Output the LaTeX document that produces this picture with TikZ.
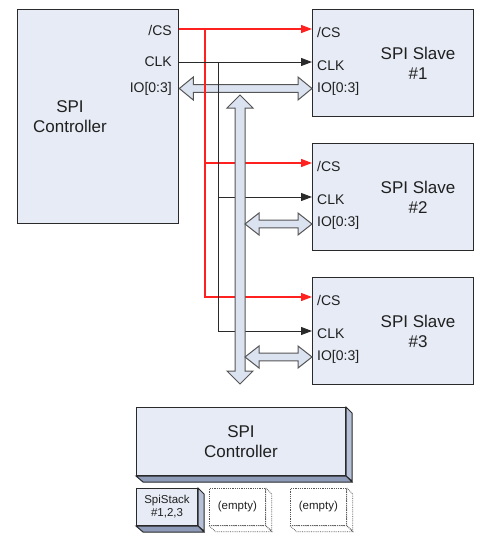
\documentclass[tikz,border=0pt]{standalone}
\usepackage{fontspec}
\setmainfont{Liberation Sans}
\usetikzlibrary{arrows.meta,calc}
\definecolor{boxfill}{HTML}{E6EBF5}
\definecolor{arrfill}{HTML}{DCE3F0}
\definecolor{sidefill}{HTML}{B6C0D6}
\definecolor{botfill}{HTML}{8E9CBA}
\definecolor{sigred}{HTML}{FF2020}
\definecolor{edge}{HTML}{2A2A2A}
\definecolor{txt}{HTML}{202020}
\newcommand\dblH[5]{%
 \filldraw[iobus] let \p1=(#1), \p2=(#2) in
 (\x1,\y1) -- (\x1+#5pt,\y1+#4pt) -- (\x1+#5pt,\y1+#3pt) -- (\x2-#5pt,\y1+#3pt) -- (\x2-#5pt,\y1+#4pt) -- (\x2,\y1)
 -- (\x2-#5pt,\y1-#4pt) -- (\x2-#5pt,\y1-#3pt) -- (\x1+#5pt,\y1-#3pt) -- (\x1+#5pt,\y1-#4pt) -- cycle;}
\newcommand\dblV[5]{%
 \filldraw[iobus] let \p1=(#1), \p2=(#2) in
 (\x1,\y1) -- (\x1+#4pt,\y1-#5pt) -- (\x1+#3pt,\y1-#5pt) -- (\x1+#3pt,\y2+#5pt) -- (\x1+#4pt,\y2+#5pt) -- (\x1,\y2)
 -- (\x1-#4pt,\y2+#5pt) -- (\x1-#3pt,\y2+#5pt) -- (\x1-#3pt,\y1-#5pt) -- (\x1-#4pt,\y1-#5pt) -- cycle;}
\begin{document}
\begin{tikzpicture}[x=1pt,y=-1pt,
 box/.style={draw=edge, line width=1.3pt, fill=boxfill, inner sep=0pt, anchor=north west},
 big/.style={font=\fontsize{17}{20}\selectfont, text=txt, align=center},
 port/.style={font=\fontsize{14}{15}\selectfont, text=txt, inner sep=0pt},
 csline/.style={color=sigred, line width=1.2pt},
 ckline/.style={color=edge, line width=1pt},
 tip/.style={-{Triangle[length=11pt,width=8pt]}},
 iobus/.style={draw=edge!80, fill=arrfill, line width=1pt, line join=miter},
 face/.style={draw=edge, line width=1pt, fill=boxfill, inner sep=0pt, anchor=north west},
 sidef/.style={draw=edge, line width=1pt, fill=sidefill},
 botf/.style={draw=edge, line width=1pt, fill=botfill},
 ghost/.style={draw=edge!80, densely dotted, line width=0.8pt, fill=white},
 small/.style={font=\fontsize{11.5}{13}\selectfont, text=txt, align=center}]
\useasboundingbox (0,0) rectangle (482,541);

% boxes
\node[box, minimum width=161pt, minimum height=214pt] (ctrl) at (17,9) {};
\node[box, minimum width=161pt, minimum height=107pt] (s1) at (312,9) {};
\node[box, minimum width=161pt, minimum height=107pt] (s2) at (312,143) {};
\node[box, minimum width=161pt, minimum height=107pt] (s3) at (312,277) {};

\node[big] (ctrltxt) at (70,117) {SPI\\Controller};
\node[big] (s1txt) at (418,63) {SPI Slave\\\#1};
\node[big] (s2txt) at (418,197) {SPI Slave\\\#2};
\node[big] (s3txt) at (418,331) {SPI Slave\\\#3};

% controller port labels
\node[port, anchor=east] (lcs) at (172,30) {/CS};
\node[port, anchor=east] (lck) at (172,62) {CLK};
\node[port, anchor=east] (lio) at (172,89) {IO[0:3]};
% slave port labels
\foreach \s/\t in {s1/9,s2/143,s3/277}{
 \node[port, anchor=west] (\s-lcs) at (317,\t+23) {/CS};
 \node[port, anchor=west] (\s-lck) at (317,\t+57) {CLK};
 \node[port, anchor=west] (\s-lio) at (317,\t+80) {IO[0:3]};
}

% port coordinates
\coordinate (c-cs) at (ctrl.east |- 0,29);
\coordinate (c-ck) at (ctrl.east |- 0,62);
\coordinate (c-io) at (ctrl.east |- 0,88.5);
\coordinate (s1-cs) at (s1.west |- 0,29);
\coordinate (s1-ck) at (s1.west |- 0,62);
\coordinate (s1-io) at (s1.west |- 0,88.5);
\coordinate (s2-cs) at (s2.west |- 0,163);
\coordinate (s2-ck) at (s2.west |- 0,197);
\coordinate (s2-io) at (s2.west |- 0,224);
\coordinate (s3-cs) at (s3.west |- 0,297);
\coordinate (s3-ck) at (s3.west |- 0,331);
\coordinate (s3-io) at (s3.west |- 0,357);
\coordinate (jcs) at (205,29);
\coordinate (jck) at (218,62);
\coordinate (bustop) at (240,95);
\coordinate (busbot) at (240,384);
\coordinate (bus2) at (245,224);
\coordinate (bus3) at (245,357);

% horizontal IO bus controller -> slave 1
\dblH{c-io}{s1-io}{3.8}{11.5}{14}

% chip select (red)
\draw[csline, tip] (c-cs) -- (s1-cs);
\draw[csline] (jcs) -- (jcs |- s2-cs);
\draw[csline, tip] (jcs |- s2-cs) -- (s2-cs);
\draw[csline, tip] (jcs |- s2-cs) |- (s3-cs);

% clock (black)
\draw[ckline, tip] (c-ck) -- (s1-ck);
\draw[ckline] (jck) -- (jck |- s2-ck);
\draw[ckline, tip] (jck |- s2-ck) -- (s2-ck);
\draw[ckline, tip] (jck |- s2-ck) |- (s3-ck);

% vertical IO bus and branches
\dblV{bustop}{busbot}{5}{13}{13}
\dblH{bus2}{s2-io}{3.8}{11}{14}
\dblH{bus3}{s3-io}{3.8}{11}{14}

% bottom 3D block diagram
\node[face, minimum width=209pt, minimum height=68pt] (bctrl) at (136,407) {};
\filldraw[sidef] (bctrl.north east) -- ++(6,6) -- ++(0,68) -- (bctrl.south east) -- cycle;
\filldraw[botf] (bctrl.south west) -- (bctrl.south east) -- ++(6,6) -- ++(-209,0) -- cycle;
\node[big] (bctrltxt) at (bctrl.center) {SPI\\Controller};

\node[face, minimum width=61pt, minimum height=37pt] (stack) at (136,488) {};
\filldraw[sidef] (stack.north east) -- ++(6,6) -- ++(0,37) -- (stack.south east) -- cycle;
\filldraw[botf] (stack.south west) -- (stack.south east) -- ++(6,6) -- ++(-61,0) -- cycle;
\node[small] (stacktxt) at (stack.center) {SpiStack\\\#1,2,3};

\foreach \n/\x in {e1/209,e2/290}{
 \node[ghost, inner sep=0pt, anchor=north west, minimum width=56pt, minimum height=37pt] (\n) at (\x,488) {};
 \filldraw[ghost] (\n.north east) -- ++(6,6) -- ++(0,37) -- (\n.south east) -- cycle;
 \filldraw[ghost] (\n.south west) -- (\n.south east) -- ++(6,6) -- ++(-56,0) -- cycle;
 \node[small] (\n txt) at (\n.center) {(empty)};
}
\end{tikzpicture}
\end{document}
